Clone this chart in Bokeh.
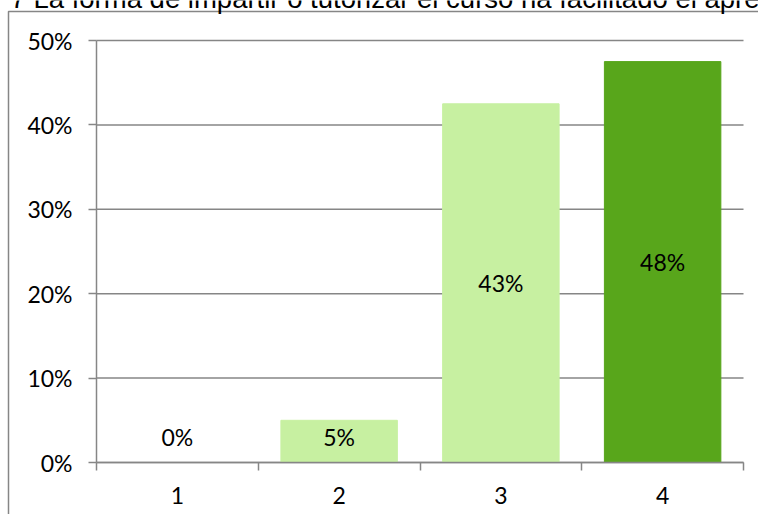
from bokeh.plotting import figure
from bokeh.models import ColumnDataSource, FixedTicker, Range1d, LinearAxis
from bokeh.core.properties import value
from bokeh.embed import file_html
from bokeh.resources import INLINE

title_text = "7  La forma de impartir o tutorizar el curso ha facilitado el aprendizaje"
categories = ["1", "2", "3", "4"]
values = [0.0, 0.05, 0.425, 0.475]
value_labels = ["0%", "5%", "43%", "48%"]
bar_colors = ["#C7F0A1", "#C7F0A1", "#C7F0A1", "#58A61B"]
y_ticks = [0.0, 0.1, 0.2, 0.3, 0.4, 0.5]
y_tick_labels = ["0%", "10%", "20%", "30%", "40%", "50%"]

FONT = "Lato"
GREY = "#868686"

n = len(categories)
xs = list(range(1, n + 1))
x_lo, x_hi = 0.5, n + 0.5
y_lo, y_hi = y_ticks[0], y_ticks[-1]
label_y = [max(v / 2, 0.03) for v in values]

src = ColumnDataSource(dict(x=xs, top=values, color=bar_colors,
                            ly=label_y, lt=value_labels))

# canvas size and where the plot area sits inside it (pixels)
W, H = 758, 514
PL, PR, PT, PB = 96, 743, 40, 462
px_x = (PR - PL) / (x_hi - x_lo)
px_y = (PB - PT) / (y_hi - y_lo)
def dx(px):
    return x_lo + (px - PL) / px_x
def dy(py):
    return y_hi + (PT - py) / px_y

p = figure(width=W, height=H, output_backend="svg", toolbar_location=None,
           x_range=Range1d(dx(0), dx(W)), y_range=Range1d(dy(H), dy(0)),
           min_border=0, x_axis_location=None, y_axis_location=None)
p.outline_line_color = None
p.background_fill_color = "white"
p.border_fill_color = "white"
p.xgrid.visible = False
p.ygrid.visible = False

# horizontal gridlines across the category span
p.segment(x0=[x_lo] * len(y_ticks), x1=[x_hi] * len(y_ticks), y0=y_ticks, y1=y_ticks,
          line_color=GREY, line_width=1.5)

p.vbar(x="x", top="top", bottom=0, width=0.72, color="color", source=src)

p.text(x="x", y="ly", text="lt", source=src,
       text_align="center", text_baseline="middle",
       text_font=value(FONT), text_font_size="23px", text_color="black")

# y axis
yax = LinearAxis(fixed_location=x_lo, bounds=(y_lo, y_hi))
yax.ticker = FixedTicker(ticks=y_ticks)
yax.major_label_overrides = {t: l for t, l in zip(y_ticks, y_tick_labels)}
yax.major_tick_out = 8
yax.major_tick_in = 0
yax.minor_tick_line_color = None
yax.axis_line_color = GREY
yax.axis_line_width = 1.5
yax.major_tick_line_color = GREY
yax.major_tick_line_width = 1.5
yax.major_label_standoff = 16
yax.major_label_text_font = FONT
yax.major_label_text_font_size = "23px"
yax.major_label_text_color = "black"
p.add_layout(yax, "left")

# x axis
xax = LinearAxis(fixed_location=y_lo, bounds=(x_lo, x_hi))
xax.ticker = FixedTicker(ticks=xs, minor_ticks=[i + 0.5 for i in range(0, n + 1)])
xax.major_label_overrides = {x: c for x, c in zip(xs, categories)}
xax.major_tick_line_color = None
xax.major_tick_out = 0
xax.major_tick_in = 0
xax.minor_tick_out = 8
xax.minor_tick_in = 0
xax.minor_tick_line_color = GREY
xax.minor_tick_line_width = 1.5
xax.axis_line_color = GREY
xax.axis_line_width = 1.5
xax.major_label_standoff = 16
xax.major_label_text_font = FONT
xax.major_label_text_font_size = "23px"
xax.major_label_text_color = "black"
p.add_layout(xax, "below")

# outer chart border: only its left and top edges are visible
p.line(x=[dx(8), dx(8), dx(W + 20)], y=[dy(H + 20), dy(11), dy(11)],
       line_color=GREY, line_width=1.5)

# title, cut off at the top like the reference
p.text(x=[dx(10)], y=[dy(-2.5)], text=[title_text],
       text_font=value("Liberation Sans"), text_font_size="27.5px",
       text_color="black", text_baseline="middle", text_align="left")

open("out.html", "w").write(file_html(p, INLINE))
